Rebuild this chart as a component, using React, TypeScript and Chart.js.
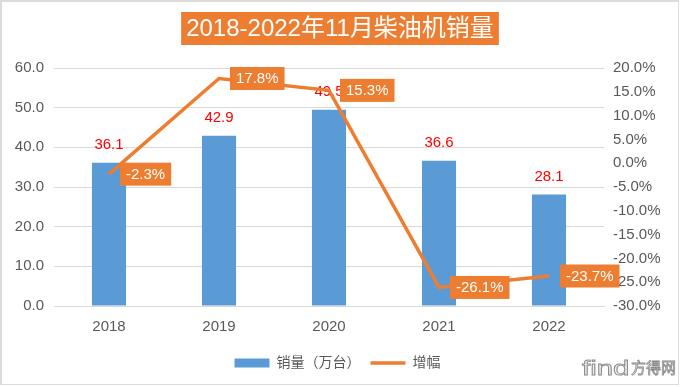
import React, { useEffect, useRef } from 'react';
import { Chart, registerables } from 'chart.js';
Chart.register(...registerables);

const years = ['2018', '2019', '2020', '2021', '2022'];
const sales = [36.1, 42.9, 49.5, 36.6, 28.1];
const growth = [-2.3, 17.8, 15.3, -26.1, -23.7];
const titleText = '2018-2022年11月柴油机销量';
const salesLabel = '销量（万台）';
const growthLabel = '增幅';

const FONT = "'Liberation Sans', 'Noto Sans CJK SC', Arial, sans-serif";
const BLUE = '#5B9BD5';
const ORANGE = '#ED7D31';
const GRAY = '#595959';

const customPlugin = {
  id: 'customLabels',
  afterDatasetDraw(chart: any, args: any) {
    if (args.index !== 0) return;
    const ctx = chart.ctx;
    const meta = chart.getDatasetMeta(0);
    ctx.save();
    ctx.font = `15px ${FONT}`;
    ctx.fillStyle = '#FF0000';
    ctx.textAlign = 'center';
    ctx.textBaseline = 'middle';
    meta.data.forEach((el: any, i: number) => {
      ctx.fillText(sales[i].toFixed(1), el.x, el.y - 18);
    });
    ctx.restore();
  },
  afterDatasetsDraw(chart: any) {
    const ctx = chart.ctx;
    const meta = chart.getDatasetMeta(1);
    ctx.save();
    ctx.font = `15px ${FONT}`;
    ctx.textBaseline = 'middle';
    ctx.textAlign = 'left';
    meta.data.forEach((el: any, i: number) => {
      const t = growth[i].toFixed(1) + '%';
      const w = ctx.measureText(t).width + 12;
      const h = 23;
      const x0 = el.x + 11;
      ctx.fillStyle = ORANGE;
      ctx.fillRect(x0, el.y - h / 2, w, h);
      ctx.fillStyle = '#FFFFFF';
      ctx.fillText(t, x0 + 6, el.y + 0.5);
    });
    ctx.restore();
  },
  afterDraw(chart: any) {
    const ctx = chart.ctx;
    ctx.save();
    ctx.font = `24px ${FONT}`;
    const tw = ctx.measureText(titleText).width;
    const cx = chart.width / 2;
    const bw = tw + 10;
    ctx.fillStyle = ORANGE;
    ctx.fillRect(cx - bw / 2, 12, bw, 33);
    ctx.fillStyle = '#FFFFFF';
    ctx.textAlign = 'center';
    ctx.textBaseline = 'middle';
    ctx.fillText(titleText, cx, 29);
    ctx.restore();

    // watermark
    ctx.save();
    ctx.textAlign = 'left';
    ctx.textBaseline = 'alphabetic';
    ctx.lineWidth = 0.8;
    ctx.strokeStyle = '#8a8a8a';
    ctx.fillStyle = '#f2f2f2';
    ctx.font = `21px ${FONT}`;
    ctx.translate(582, 375);
    ctx.scale(1.4, 1);
    ctx.fillText('find', 0, 0);
    ctx.strokeText('find', 0, 0);
    ctx.restore();
    ctx.save();
    ctx.lineWidth = 0.8;
    ctx.strokeStyle = '#8a8a8a';
    ctx.fillStyle = '#f2f2f2';
    ctx.font = `15px 'Noto Sans CJK SC', sans-serif`;
    ctx.textBaseline = 'alphabetic';
    ctx.fillText('方得网', 631, 373);
    ctx.strokeText('方得网', 631, 373);
    ctx.restore();
  },
};

export default function App() {
  const ref = useRef<HTMLCanvasElement>(null);
  useEffect(() => {
    if (!ref.current) return;
    const chart = new Chart(ref.current, {
      type: 'bar',
      data: {
        labels: years,
        datasets: [
          {
            type: 'bar',
            label: salesLabel,
            data: sales,
            backgroundColor: BLUE,
            borderWidth: 0,
            yAxisID: 'y',
            barPercentage: 0.31,
            categoryPercentage: 1,
            order: 1,
          },
          {
            type: 'line',
            label: growthLabel,
            data: growth,
            borderColor: ORANGE,
            backgroundColor: ORANGE,
            borderWidth: 3.5,
            pointRadius: 0,
            tension: 0,
            yAxisID: 'y1',
            order: 0,
          },
        ],
      } as any,
      options: {
        animation: false,
        responsive: true,
        maintainAspectRatio: false,
        layout: { padding: { top: 68, left: 14, right: 19, bottom: 7 } },
        plugins: {
          title: { display: false },
          tooltip: { enabled: false },
          legend: {
            position: 'bottom',
            labels: {
              usePointStyle: true,
              pointStyleWidth: 35,
              boxHeight: 9,
              padding: 10,
              color: GRAY,
              font: { size: 14, family: FONT },
              generateLabels: () => [
                {
                  text: salesLabel,
                  fillStyle: BLUE,
                  strokeStyle: BLUE,
                  lineWidth: 0,
                  pointStyle: 'rect',
                  datasetIndex: 0,
                  hidden: false,
                  fontColor: GRAY,
                },
                {
                  text: growthLabel,
                  fillStyle: ORANGE,
                  strokeStyle: ORANGE,
                  lineWidth: 3.5,
                  pointStyle: 'line',
                  datasetIndex: 1,
                  hidden: false,
                  fontColor: GRAY,
                },
              ],
            },
          },
        },
        scales: {
          x: {
            grid: { display: false, drawTicks: false },
            border: { display: true, color: '#d9d9d9' },
            ticks: { color: GRAY, font: { size: 15, family: FONT }, padding: 12 },
            afterFit: (s: any) => {
              s.height = 40;
            },
          },
          y: {
            position: 'left',
            min: 0,
            max: 60,
            ticks: {
              stepSize: 10,
              color: GRAY,
              font: { size: 15, family: FONT },
              padding: 10,
              callback: (v: any) => Number(v).toFixed(1),
            },
            grid: { color: '#d9d9d9', drawTicks: false },
            border: { display: false },
            afterFit: (s: any) => {
              s.width = 40;
            },
          },
          y1: {
            position: 'right',
            min: -30,
            max: 20,
            ticks: {
              stepSize: 5,
              color: GRAY,
              font: { size: 15, family: FONT },
              padding: 9,
              callback: (v: any) => Number(v).toFixed(1) + '%',
            },
            grid: { display: false, drawTicks: false },
            border: { display: false },
            afterFit: (s: any) => {
              s.width = 57;
            },
          },
        },
      } as any,
      plugins: [customPlugin],
    });
    return () => chart.destroy();
  }, []);

  return (
    <div
      style={{
        position: 'absolute',
        left: 0,
        top: 0,
        width: 680,
        height: 387,
        background: '#fff',
      }}
    >
      <canvas ref={ref} style={{ position: 'absolute', left: 0, top: 0, width: 680, height: 387 }} />
      <div
        style={{
          position: 'absolute',
          left: 0,
          top: 0,
          width: 679,
          height: 385,
          boxSizing: 'border-box',
          borderTop: '2px solid #dcdcdc',
          borderLeft: '2px solid #dcdcdc',
          borderRight: '1px solid #dcdcdc',
          borderBottom: '1px solid #dcdcdc',
          pointerEvents: 'none',
        }}
      />
    </div>
  );
}
